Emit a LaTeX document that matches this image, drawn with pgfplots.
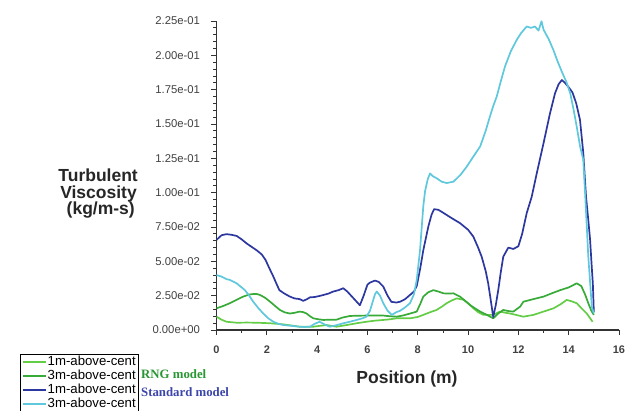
\documentclass[border=0pt]{standalone}
\usepackage{fontspec}
\setmainfont{Liberation Sans}
\newfontfamily\serifb{Liberation Serif}
\usepackage{pgfplots}
\pgfplotsset{compat=1.18}
\definecolor{cblue}{RGB}{45,55,160}
\definecolor{ccyan}{RGB}{95,200,220}
\definecolor{cgreenA}{RGB}{55,170,55}
\definecolor{cgreenB}{RGB}{100,205,70}
\definecolor{rngtxt}{RGB}{40,150,50}
\definecolor{stdtxt}{RGB}{60,70,170}
\begin{document}
\begin{tikzpicture}
\useasboundingbox (0,0) rectangle (625pt,411pt);
\begin{axis}[
 at={(216.5pt,81pt)}, anchor=south west,
 scale only axis, width=402.5pt, height=309pt,
 xmin=0, xmax=16, ymin=0, ymax=0.225,
 axis x line=bottom, axis y line=left,
 axis line style={-, line width=1.1pt, draw=black!80},
 xtick={0,2,4,6,8,10,12,14,16}, minor x tick num=1,
 ytick={0,0.025,0.05,0.075,0.1,0.125,0.15,0.175,0.2,0.225},
 yticklabels={0.00e+00,2.50e-02,5.00e-02,7.50e-02,1.00e-01,1.25e-01,1.50e-01,1.75e-01,2.00e-01,2.25e-01},
 minor y tick num=4,
 tick align=outside,
 major tick length=5pt, minor tick length=3pt,
 tick style={draw=black!80, line width=0.8pt},
 /pgf/number format/assume math mode=true,
 x tick label style={font=\fontsize{11}{13}\selectfont\bfseries, text=black!75, yshift=-7pt},
 y tick label style={font=\fontsize{11.3}{12}\selectfont, text=black!75, xshift=-8pt},
 legend style={at={(axis description cs:-0.4882,-0.0777)}, anchor=north west, draw=black, line width=0.8pt, fill=white,
   font=\fontsize{13.2}{14}\selectfont, inner xsep=1.5pt, inner ysep=1pt, row sep=0pt,
   nodes={inner sep=1pt, text height=9.4pt, text depth=2.5pt}},
 legend cell align=left,
 legend image code/.code={\draw[#1, line width=1.8pt] (0pt,0pt) -- (23pt,0pt);},
 every axis plot/.append style={line width=1.7pt, line join=round},
]
\addplot[cgreenB] coordinates {
(0,0.0097) (0.2,0.0075) (0.4,0.0060) (0.8,0.0053) (1.2,0.0054) (1.6,0.0053) (2.13,0.0049) (2.66,0.0041) (3.0,0.0032) (3.3,0.0024) (3.85,0.0024) (4.1,0.0030) (4.38,0.0036) (4.77,0.0024) (5.04,0.0032) (5.3,0.0040) (5.6,0.0050) (5.96,0.0060) (6.3,0.0068) (6.63,0.0073) (6.9,0.0078) (7.16,0.0085) (7.4,0.0085) (7.7,0.0085) (8.0,0.0095) (8.22,0.0110) (8.5,0.0130) (8.75,0.0146) (9.0,0.0175) (9.15,0.0195) (9.35,0.0215) (9.55,0.0230) (9.82,0.0220) (10.0,0.0195) (10.21,0.0158) (10.4,0.0130) (10.61,0.0110) (11.0,0.0110) (11.27,0.0134) (11.5,0.0125) (11.67,0.0120) (11.9,0.0110) (12.2,0.0097) (12.6,0.0110) (13.0,0.0134) (13.4,0.0158) (13.7,0.0190) (13.92,0.0219) (14.1,0.0210) (14.32,0.0195) (14.5,0.0160) (14.72,0.0120) (14.95,0.0060)
};
\addlegendentry{1m-above-cent}
\addplot[cgreenA] coordinates {
(0,0.0158) (0.27,0.0175) (0.53,0.0195) (0.8,0.0220) (1.06,0.0243) (1.3,0.0258) (1.46,0.0262) (1.6,0.0262) (1.73,0.0255) (1.93,0.0235) (2.13,0.0206) (2.33,0.0175) (2.52,0.0146) (2.72,0.0128) (2.92,0.0120) (3.1,0.0125) (3.3,0.0134) (3.45,0.0130) (3.58,0.0120) (3.72,0.0100) (3.85,0.0085) (4.05,0.0078) (4.25,0.0073) (4.5,0.0075) (4.77,0.0075) (5.0,0.0090) (5.3,0.0102) (5.6,0.0104) (5.96,0.0105) (6.3,0.0106) (6.63,0.0105) (6.9,0.0100) (7.16,0.0097) (7.4,0.0105) (7.7,0.0120) (7.96,0.0134) (8.1,0.0190) (8.22,0.0243) (8.42,0.0275) (8.62,0.0290) (8.82,0.0280) (9.02,0.0267) (9.22,0.0265) (9.42,0.0267) (9.68,0.0243) (9.9,0.0210) (10.08,0.0182) (10.3,0.0155) (10.48,0.0134) (10.75,0.0110) (11.0,0.0085) (11.2,0.0120) (11.4,0.0146) (11.6,0.0138) (11.8,0.0134) (12.07,0.0170) (12.2,0.0206) (12.6,0.0225) (13.0,0.0243) (13.3,0.0265) (13.66,0.0290) (14.0,0.0310) (14.32,0.0340) (14.5,0.0320) (14.65,0.0260) (14.78,0.0195) (14.9,0.0140) (15.0,0.0110)
};
\addlegendentry{3m-above-cent}
\addplot[cblue] coordinates {
(0,0.0656) (0.2,0.0690) (0.4,0.0698) (0.6,0.0693) (0.8,0.0685) (1.0,0.0660) (1.2,0.0630) (1.4,0.0605) (1.6,0.0580) (1.8,0.0550) (1.95,0.0510) (2.1,0.0450) (2.26,0.0389) (2.4,0.0330) (2.5,0.0290) (2.7,0.0265) (2.92,0.0243) (3.1,0.0230) (3.3,0.0225) (3.45,0.0212) (3.6,0.0225) (3.72,0.0238) (3.9,0.0240) (4.1,0.0248) (4.25,0.0255) (4.45,0.0265) (4.64,0.0280) (4.85,0.0290) (5.04,0.0304) (5.2,0.0280) (5.4,0.0240) (5.55,0.0210) (5.7,0.0180) (5.85,0.0250) (6.0,0.0330) (6.1,0.0345) (6.3,0.0360) (6.45,0.0350) (6.63,0.0316) (6.8,0.0250) (6.95,0.0205) (7.15,0.0200) (7.3,0.0206) (7.5,0.0225) (7.69,0.0255) (7.85,0.0280) (7.96,0.0320) (8.1,0.0450) (8.22,0.0580) (8.42,0.0753) (8.55,0.0840) (8.65,0.0880) (8.82,0.0875) (9.0,0.0855) (9.3,0.0820) (9.68,0.0778) (10.0,0.0730) (10.21,0.0680) (10.4,0.0600) (10.54,0.0534) (10.7,0.0430) (10.8,0.0340) (10.9,0.0220) (11.0,0.0095) (11.1,0.0180) (11.2,0.0290) (11.3,0.0420) (11.4,0.0534) (11.6,0.0600) (11.8,0.0590) (12.0,0.0610) (12.15,0.0700) (12.33,0.0850) (12.53,0.0970) (12.73,0.1140) (13.0,0.1360) (13.26,0.1580) (13.46,0.1725) (13.6,0.1790) (13.73,0.1820) (13.85,0.1800) (13.99,0.1770) (14.15,0.1730) (14.3,0.1650) (14.45,0.1530) (14.58,0.1290) (14.69,0.0970) (14.78,0.0800) (14.85,0.0660) (14.92,0.0450) (14.96,0.0340) (15.0,0.0130)
};
\addlegendentry{1m-above-cent}
\addplot[ccyan] coordinates {
(0,0.0400) (0.2,0.0389) (0.4,0.0370) (0.53,0.0365) (0.8,0.0340) (1.0,0.0310) (1.13,0.0290) (1.3,0.0250) (1.46,0.0206) (1.66,0.0160) (1.86,0.0120) (2.06,0.0085) (2.26,0.0060) (2.46,0.0045) (2.66,0.0036) (3.0,0.0030) (3.3,0.0024) (3.5,0.0022) (3.72,0.0024) (3.9,0.0045) (4.1,0.0060) (4.3,0.0040) (4.5,0.0024) (4.77,0.0035) (5.04,0.0049) (5.3,0.0060) (5.57,0.0073) (5.8,0.0085) (5.96,0.0097) (6.1,0.0140) (6.2,0.0200) (6.3,0.0260) (6.37,0.0280) (6.5,0.0250) (6.63,0.0195) (6.8,0.0140) (6.97,0.0110) (7.15,0.0130) (7.3,0.0140) (7.5,0.0165) (7.69,0.0195) (7.85,0.0260) (7.96,0.0365) (8.09,0.0580) (8.22,0.0900) (8.29,0.1010) (8.4,0.1100) (8.49,0.1140) (8.6,0.1120) (8.75,0.1105) (8.95,0.1080) (9.15,0.1070) (9.42,0.1080) (9.7,0.1130) (9.95,0.1190) (10.2,0.1260) (10.48,0.1336) (10.7,0.1450) (10.87,0.1555) (11.0,0.1630) (11.14,0.1700) (11.3,0.1810) (11.47,0.1920) (11.7,0.2030) (11.94,0.2114) (12.1,0.2160) (12.33,0.2210) (12.5,0.2200) (12.66,0.2210) (12.8,0.2180) (12.92,0.2248) (13.0,0.2187) (13.2,0.2120) (13.39,0.2040) (13.55,0.1960) (13.73,0.1880) (13.9,0.1810) (14.06,0.1725) (14.2,0.1600) (14.32,0.1480) (14.45,0.1340) (14.58,0.1240) (14.66,0.0970) (14.78,0.0534) (14.85,0.0350) (14.92,0.0170) (15.0,0.0120)
};
\addlegendentry{3m-above-cent}
\end{axis}
\node[anchor=base east, inner sep=0, font=\fontsize{17.5}{18}\selectfont\bfseries, text=black!85] at (138pt,229pt) {Turbulent};
\node[anchor=base east, inner sep=0, font=\fontsize{17.5}{18}\selectfont\bfseries, text=black!85] at (137pt,212.5pt) {Viscosity};
\node[anchor=base east, inner sep=0, font=\fontsize{17.5}{18}\selectfont\bfseries, text=black!85] at (135pt,196pt) {(kg/m-s)};
\node[anchor=base, inner sep=0, font=\fontsize{17.5}{18}\selectfont\bfseries, text=black!85] at (407pt,27pt) {Position (m)};
\node[anchor=base west, inner sep=0, font=\serifb\bfseries\fontsize{12.8}{14}\selectfont, text=rngtxt] at (141pt,32pt) {RNG model};
\node[anchor=base west, inner sep=0, font=\serifb\bfseries\fontsize{12.8}{14}\selectfont, text=stdtxt] at (141pt,14.5pt) {Standard model};
\end{tikzpicture}
\end{document}
